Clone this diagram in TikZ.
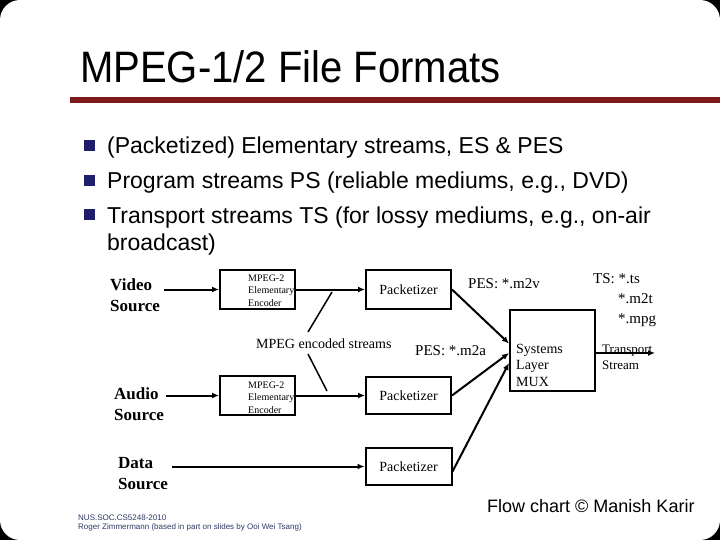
\documentclass[tikz,border=0pt]{standalone}
\usepackage{fontspec}
\setmainfont{Liberation Serif}
\newfontfamily\sansf{Liberation Sans}
\usetikzlibrary{arrows.meta}
\definecolor{rulered}{HTML}{7F1A1C}
\definecolor{bulblue}{HTML}{1E1E6A}
\definecolor{footc}{HTML}{2E3A66}
\begin{document}
\begin{tikzpicture}[x=1pt,y=-1pt,
  box/.style={draw, line width=2pt, inner sep=0pt},
  conn/.style={line width=2pt, -{Latex[length=7pt,width=6pt]}},
  txt/.style={inner sep=0pt, anchor=base west, align=left},
  src/.style={txt, font=\bfseries\fontsize{17}{21}\selectfont},
  tiny/.style={txt, font=\fontsize{10}{12.5}\selectfont},
  lab/.style={txt, font=\fontsize{14}{16.5}\selectfont},
  pes/.style={txt, font=\fontsize{15}{20}\selectfont},
  bullettxt/.style={txt, font=\sansf\fontsize{23}{28}\selectfont},
  bulletsq/.style={fill=bulblue}]
\fill[black] (0,0) rectangle (720,540);
\fill[white, rounded corners=20pt] (0,0) rectangle (720,540);
\useasboundingbox (0,0) rectangle (720,540);

% title
\node[txt, font=\sansf\fontsize{44}{50}\selectfont] (title) at (80,83) {\scalebox{0.91}[1]{MPEG-1/2 File Formats}};
\fill[rulered] (70,97) rectangle (720,103);

% bullets
\fill[bulletsq] (84,140) rectangle (95,151);
\fill[bulletsq] (84,175) rectangle (95,186);
\fill[bulletsq] (84,209) rectangle (95,220);
\node[bullettxt] (b1) at (107,154) {(Packetized) Elementary streams, ES \& PES};
\node[bullettxt] (b2) at (107,189) {Program streams PS (reliable mediums, e.g., DVD)};
\node[bullettxt] (b3) at (107,223) {Transport streams TS (for lossy mediums, e.g., on-air};
\node[bullettxt] (b4) at (107,251) {broadcast)};

% sources (base anchor = last line baseline)
\node[src] (video) at (110,311) {Video\\Source};
\node[src] (audio) at (114,420) {Audio\\Source};
\node[src] (data) at (118,489) {Data\\Source};

% encoders
\node[box, minimum width=75pt, minimum height=39pt] (enc1) at (257.5,289.5) {};
\node[tiny] (enc1t) at (248,306) {MPEG-2\\Elementary\\Encoder};
\node[box, minimum width=75pt, minimum height=39pt] (enc2) at (257.5,395.5) {};
\node[tiny] (enc2t) at (248,413) {MPEG-2\\Elementary\\Encoder};

% packetizers
\node[box, minimum width=85pt, minimum height=39pt, font=\fontsize{14}{16}\selectfont] (pk1) at (408.5,289.5) {Packetizer};
\node[box, minimum width=85pt, minimum height=37pt, font=\fontsize{14}{16}\selectfont] (pk2) at (408.5,395.5) {Packetizer};
\node[box, minimum width=86pt, minimum height=37pt, font=\fontsize{14}{16}\selectfont] (pk3) at (408.5,466.5) {Packetizer};

% mux
\node[box, minimum width=85pt, minimum height=81pt] (mux) at (552.5,350.5) {};
\node[lab] (muxt) at (516,386) {Systems\\Layer\\MUX};

% labels
\node[lab] (mes) at (256,348) {MPEG encoded streams};
\node[pes] (pesv) at (468,288) {PES: *.m2v};
\node[pes] (pesa) at (415,355) {PES: *.m2a};
\node[pes] (ts1) at (593,283) {TS: *.ts};
\node[pes] (ts2) at (618,303) {*.m2t};
\node[pes] (ts3) at (618,323) {*.mpg};
\node[lab, font=\fontsize{13}{16}\selectfont] (tstr) at (602,369) {Transport\\Stream};

% connectors
\draw[conn] ([xshift=4pt]video.east |- enc1.west) -- (enc1.west);
\draw[conn] ([xshift=2pt]audio.east |- enc2.west) -- (enc2.west);
\draw[conn] ([xshift=4pt]data.east |- pk3.west) -- (pk3.west);
\draw[conn] (enc1.east) -- (pk1.west);
\draw[conn] (enc2.east) -- (pk2.west);
\draw[conn] (pk1.east) -- ([yshift=7pt]mux.west);
\draw[conn] (pk2.east) -- ([yshift=-2.5pt]mux.west);
\draw[conn] ([yshift=-5pt]pk3.east) -- ([yshift=-12.5pt]mux.west);
\coordinate (tsend) at (655,353);
\draw[conn] (mux.east |- tsend) -- (tsend);

\coordinate (l1a) at (308,332);
\coordinate (l1b) at (332,292);
\coordinate (l2a) at (308,354);
\coordinate (l2b) at (327,391);
\draw[line width=1.5pt] (l1a) -- (l1b);
\draw[line width=1.5pt] (l2a) -- (l2b);

% credits
\node[txt, font=\sansf\fontsize{18}{20}\selectfont] (credit) at (487,512) {Flow chart \textcopyright{} Manish Karir};
\node[txt, font=\sansf\fontsize{8}{9}\selectfont, text=footc] (foot) at (78,529) {NUS.SOC.CS5248-2010\\Roger Zimmermann (based in part on slides  by Ooi Wei Tsang)};
\end{tikzpicture}
\end{document}
